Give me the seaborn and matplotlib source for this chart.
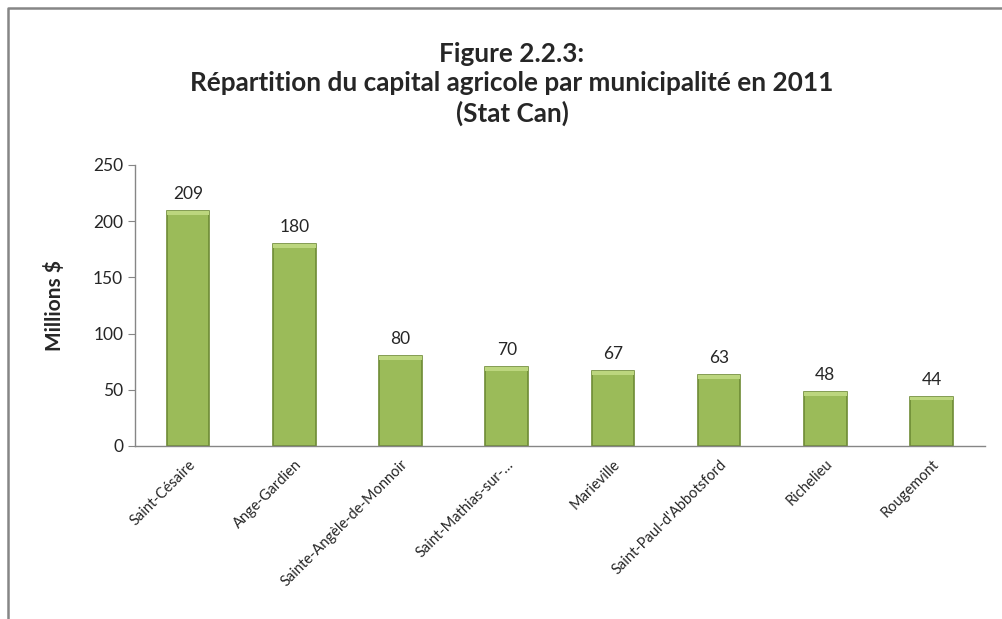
import matplotlib
matplotlib.use("Agg")
import matplotlib.pyplot as plt
import seaborn as sns
import pandas as pd
import numpy as np
from matplotlib.patches import Rectangle
from matplotlib.lines import Line2D

municipalites = ["Saint-Césaire", "Ange-Gardien", "Sainte-Angèle-de-Monnoir",
                 "Saint-Mathias-sur-…", "Marieville", "Saint-Paul-d'Abbotsford",
                 "Richelieu", "Rougemont"]
valeurs = [209, 180, 80, 70, 67, 63, 48, 44]
y_ticks = [0, 50, 100, 150, 200, 250]

df = pd.DataFrame({"municipalite": municipalites, "valeur": valeurs})

sns.set_style("white")
plt.rcParams["font.family"] = ["Lato", "DejaVu Sans"]

fig = plt.figure(figsize=(10.02, 6.19), dpi=100)
ax = fig.add_axes([0.1347, 0.2795, 0.848, 0.454])

sns.barplot(data=df, x="municipalite", y="valeur", color="#9BBB59",
            width=0.4, edgecolor="#6E8B35", linewidth=1.2, saturation=1, ax=ax)

# effet biseau en haut des barres
for bar in ax.patches:
    x0, w, h = bar.get_x(), bar.get_width(), bar.get_height()
    ax.add_patch(Rectangle((x0, h - 3.5), w, 3.5, facecolor="#BCD67E",
                           edgecolor="none", zorder=3))

for i, v in enumerate(valeurs):
    ax.text(i, v + 8, str(v), ha="center", va="bottom", fontsize=12.5)

ax.set_ylim(0, 250)
ax.set_xlim(-0.5, len(municipalites) - 0.5)
ax.set_yticks(y_ticks)
ax.set_yticklabels([str(t) for t in y_ticks], fontsize=12.5)
ax.set_xticks(range(len(municipalites)))
ax.set_xticklabels(municipalites, rotation=45, ha="right", rotation_mode="anchor",
                   fontsize=10.5)
ax.tick_params(axis="x", which="major", length=0, pad=8)
ax.set_xticks(np.arange(-0.5, len(municipalites), 1), minor=True)
ax.tick_params(axis="x", which="minor", length=5, color="#868686", direction="out")
ax.tick_params(axis="y", length=5, color="#868686", direction="out", left=True)

ax.set_xlabel("")
ax.set_ylabel("Millions $", fontsize=15, fontweight="bold", labelpad=20)

for s in ["top", "right"]:
    ax.spines[s].set_visible(False)
for s in ["left", "bottom"]:
    ax.spines[s].set_color("#868686")
    ax.spines[s].set_linewidth(1)

fig.text(0.511, 1 - 84 / 619, "Figure 2.2.3:\nRépartition du capital agricole par municipalité en 2011\n(Stat Can)",
         ha="center", va="center", fontsize=18.8, fontweight="bold", linespacing=1.25)

# cadre du graphique (gauche et haut)
x_cadre, y_cadre = 8 / 1002, 1 - 8 / 619
fig.lines.append(Line2D([x_cadre, x_cadre, 1.0], [0.0, y_cadre, y_cadre],
                        transform=fig.transFigure, color="#868686", linewidth=1.8))

fig.savefig("out.png", dpi=100)
